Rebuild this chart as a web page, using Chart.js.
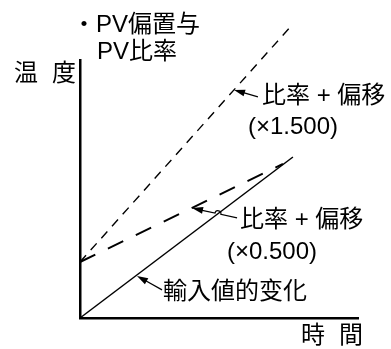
<!DOCTYPE html>
<html>
<head>
<meta charset="utf-8">
<script src="https://cdn.jsdelivr.net/npm/chart.js@4.4.1/dist/chart.umd.min.js"></script>
<style>
  html, body { margin: 0; padding: 0; background: #fff; }
  #wrap { width: 391px; height: 349px; }
</style>
</head>
<body>
<div id="wrap"><canvas id="c" width="391" height="349"></canvas></div>
<script>
// values (time 0..100, temperature 0..100 along the drawn axes)
const inputX = [0, 76.6];
const inputY = [0, 62.4];
const lowX = [0, 73];        // ratio + bias (x0.500)
const lowY = [21.7, 59.7];
const highX = [0, 76.3];     // ratio + bias (x1.500)
const highY = [21.7, 113.6];

const FONT = '24px "Liberation Sans", "Noto Sans CJK JP", sans-serif';

const toPts = (xs, ys) => xs.map((x, i) => ({ x: x, y: ys[i] }));

// leader arrows: tip and tail in data units
const arrows = [
    { tip: [55.4, 88.4], tail: [64.0, 85.7], hop: false },
    { tip: [40.3, 42.6], tail: [56.5, 38.8], hop: true },
    { tip: [20.5, 16.3], tail: [29.5, 10.9], hop: false }
];

const labels = [
    { t: '・PV偏置与', x: 72, y: 25 },
    { t: 'PV比率', x: 97, y: 52 },
    { t: '温', x: 14, y: 74 },
    { t: '度', x: 52, y: 74 },
    { t: '比率 + 偏移', x: 262, y: 96 },
    { t: '(×1.500)', x: 248, y: 127 },
    { t: '比率 + 偏移', x: 240, y: 220 },
    { t: '(×0.500)', x: 227, y: 252 },
    { t: '輸入値的变化', x: 163, y: 292 },
    { t: '時', x: 301, y: 336 },
    { t: '間', x: 339, y: 336 }
];

function drawArrow(ctx, tail, tip, hopAt) {
    const dx = tip.x - tail.x, dy = tip.y - tail.y;
    const len = Math.hypot(dx, dy);
    const ux = dx / len, uy = dy / len;
    ctx.beginPath();
    ctx.moveTo(tail.x, tail.y);
    if (hopAt) {
        const r = 3;
        const a = Math.atan2(uy, ux);
        ctx.lineTo(hopAt.x - ux * r, hopAt.y - uy * r);
        ctx.arc(hopAt.x, hopAt.y, r, a + Math.PI, a, true);
    }
    ctx.lineTo(tip.x - ux * 8, tip.y - uy * 8);
    ctx.stroke();
    // head
    const hl = 11, hw = 3.5;
    ctx.beginPath();
    ctx.moveTo(tip.x, tip.y);
    ctx.lineTo(tip.x - ux * hl - uy * hw, tip.y - uy * hl + ux * hw);
    ctx.lineTo(tip.x - ux * hl + uy * hw, tip.y - uy * hl - ux * hw);
    ctx.closePath();
    ctx.fill();
}

const notes = {
    id: 'notes',
    afterDatasetsDraw(chart) {
        const ctx = chart.ctx;
        const sx = chart.scales.x, sy = chart.scales.y;
        const px = p => ({ x: sx.getPixelForValue(p[0]), y: sy.getPixelForValue(p[1]) });
        ctx.save();
        ctx.strokeStyle = '#000';
        ctx.fillStyle = '#000';
        ctx.lineWidth = 1.2;
        ctx.setLineDash([]);

        const a0 = px([inputX[0], inputY[0]]), a1 = px([inputX[1], inputY[1]]);
        arrows.forEach(a => {
            const tip = px(a.tip), tail = px(a.tail);
            let hop = null;
            if (a.hop) {
                // where the leader crosses the input line
                const d1x = tip.x - tail.x, d1y = tip.y - tail.y;
                const d2x = a1.x - a0.x, d2y = a1.y - a0.y;
                const den = d1x * d2y - d1y * d2x;
                const t = ((a0.x - tail.x) * d2y - (a0.y - tail.y) * d2x) / den;
                hop = { x: tail.x + t * d1x, y: tail.y + t * d1y };
            }
            drawArrow(ctx, tail, tip, hop);
        });

        ctx.font = FONT;
        ctx.textBaseline = 'middle';
        ctx.textAlign = 'left';
        labels.forEach(l => ctx.fillText(l.t, l.x, l.y));
        ctx.restore();
    }
};

new Chart(document.getElementById('c'), {
    type: 'scatter',
    data: {
        datasets: [
            {
                label: '輸入値的变化',
                data: toPts(inputX, inputY),
                showLine: true,
                borderColor: '#000',
                borderWidth: 1.5,
                pointRadius: 0,
                clip: false
            },
            {
                label: '比率 + 偏移 (×0.500)',
                data: toPts(lowX, lowY),
                showLine: true,
                borderColor: '#000',
                borderWidth: 2,
                borderDash: [17, 14],
                pointRadius: 0,
                clip: false
            },
            {
                label: '比率 + 偏移 (×1.500)',
                data: toPts(highX, highY),
                showLine: true,
                borderColor: '#000',
                borderWidth: 1.4,
                borderDash: [9, 7],
                pointRadius: 0,
                clip: false
            }
        ]
    },
    options: {
        responsive: false,
        animation: false,
        layout: { padding: { left: 80, right: 33, top: 60, bottom: 31 } },
        scales: {
            x: {
                type: 'linear',
                min: 0,
                max: 100,
                grid: { display: false, drawTicks: false },
                border: { display: true, color: '#000', width: 2.5 },
                ticks: { display: false }
            },
            y: {
                type: 'linear',
                min: 0,
                max: 100,
                grid: { display: false, drawTicks: false },
                border: { display: true, color: '#000', width: 2.5 },
                ticks: { display: false }
            }
        },
        plugins: {
            legend: { display: false },
            tooltip: { enabled: false }
        }
    },
    plugins: [notes]
});
</script>
</body>
</html>
